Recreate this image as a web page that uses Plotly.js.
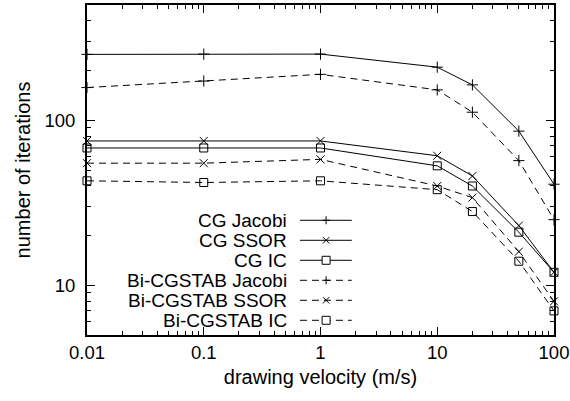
<!DOCTYPE html>
<html>
<head>
<meta charset="utf-8">
<script src="https://cdn.plot.ly/plotly-3.0.1.min.js"></script>
<style>html,body{margin:0;padding:0;background:#fff}#chart{width:570px;height:401px}</style>
</head>
<body>
<div id="chart"></div>
<script>
// drawing velocity (m/s)
const velocity = [0.01, 0.1, 1, 10, 20, 50, 100];

const seriesNames = ["CG Jacobi", "CG SSOR", "CG IC",
  "Bi-CGSTAB Jacobi", "Bi-CGSTAB SSOR", "Bi-CGSTAB IC"];

// number of iterations
const cgJacobi       = [251, 252, 252, 210, 164, 86, 41];
const cgSSOR         = [75, 75, 75, 61, 46, 23, 12];
const cgIC           = [68, 68, 68, 53, 40, 21, 12];
const bicgJacobi     = [158, 173, 190, 153, 112, 57, 25];
const bicgSSOR       = [55, 55, 58, 40, 34, 16, 8];
const bicgIC         = [43, 42, 43, 38, 28, 14, 7];

const xTickVals = [0.01, 0.1, 1, 10, 100];
const xTickText = ["0.01", "0.1", "1", "10", "100"];
const yTickVals = [10, 100];
const yTickText = ["10", "100"];

const allSeries = [cgJacobi, cgSSOR, cgIC, bicgJacobi, bicgSSOR, bicgIC];
const symbols = ["cross-thin-open", "x-thin-open", "square-open",
                 "cross-thin-open", "x-thin-open", "square-open"];
const keyKinds = ["plus", "x", "square", "plus", "x", "square"];
const dashes = ["solid", "solid", "solid", "7px,5px", "7px,5px", "7px,5px"];

const traces = allSeries.map((ys, i) => ({
  x: velocity, y: ys, name: seriesNames[i], type: "scatter", mode: "lines+markers",
  line: {color: "#000", width: 1, dash: dashes[i]},
  marker: {symbol: symbols[i], size: 8, color: "#000", line: {color: "#000", width: 1}},
  showlegend: false, cliponaxis: false
}));

const tickFont = {family: "Liberation Sans, Arial, sans-serif", size: 18.5, color: "#000"};
const titleFont = {family: "Liberation Sans, Arial, sans-serif", size: 20, color: "#000"};
const keyFont = {family: "Liberation Sans, Arial, sans-serif", size: 19, color: "#000"};

// key (legend) drawn as layout shapes + annotations, gnuplot style: text then sample
const plotW = 467, plotH = 330;
const keyTop = 0.3476, keyStep = 20 / plotH;
const keyX0 = 0.456, keyX1 = 0.567, keyXc = 0.512;
const hx = 4 / plotW, hy = 4 / plotH, sx = 3.2 / plotW, sy = 3.2 / plotH;
const shapes = [];
const annotations = [];
seriesNames.forEach((nm, i) => {
  const y = keyTop - keyStep * i;
  shapes.push({type: "line", xref: "paper", yref: "paper",
    x0: keyX0, x1: keyX1, y0: y, y1: y,
    line: {color: "#000", width: 1, dash: dashes[i]}});
  let path;
  if (keyKinds[i] === "plus") {
    path = `M${keyXc - hx},${y} L${keyXc + hx},${y} M${keyXc},${y - hy} L${keyXc},${y + hy}`;
    shapes.push({type: "path", xref: "paper", yref: "paper", path, line: {color: "#000", width: 1}});
  } else if (keyKinds[i] === "x") {
    path = `M${keyXc - sx},${y - sy} L${keyXc + sx},${y + sy} M${keyXc - sx},${y + sy} L${keyXc + sx},${y - sy}`;
    shapes.push({type: "path", xref: "paper", yref: "paper", path, line: {color: "#000", width: 1}});
  } else {
    shapes.push({type: "rect", xref: "paper", yref: "paper",
      x0: keyXc - hx, x1: keyXc + hx, y0: y - hy, y1: y + hy,
      fillcolor: "#fff", line: {color: "#000", width: 1}});
  }
  annotations.push({xref: "paper", yref: "paper", x: 0.43, y: y,
    xanchor: "right", yanchor: "middle", text: nm, showarrow: false,
    borderpad: 0, font: keyFont});
});

const layout = {
  width: 570, height: 401,
  margin: {l: 87, r: 16, t: 5, b: 66},
  paper_bgcolor: "#fff", plot_bgcolor: "#fff",
  font: tickFont,
  showlegend: false,
  xaxis: {
    type: "log", range: [-2, 2],
    tickvals: xTickVals, ticktext: xTickText,
    ticks: "inside", ticklen: 8, tickwidth: 1, tickcolor: "#000",
    minor: {ticks: "inside", ticklen: 4, tickwidth: 1, tickcolor: "#000", dtick: "D1", showgrid: false},
    showline: true, linewidth: 2, linecolor: "#000", mirror: "ticks",
    showgrid: false, zeroline: false,
    tickfont: tickFont,
    title: {text: "drawing velocity (m/s)", font: titleFont, standoff: 8}
  },
  yaxis: {
    type: "log", range: [Math.log10(5), Math.log10(500)],
    tickvals: yTickVals, ticktext: yTickText,
    ticks: "inside", ticklen: 8, tickwidth: 1, tickcolor: "#000",
    ticklabelstandoff: 6,
    minor: {ticks: "inside", ticklen: 4, tickwidth: 1, tickcolor: "#000", dtick: "D1", showgrid: false},
    showline: true, linewidth: 2, linecolor: "#000", mirror: "ticks",
    showgrid: false, zeroline: false,
    tickfont: tickFont,
    title: {text: "number of iterations", font: titleFont, standoff: 8}
  },
  shapes: shapes,
  annotations: annotations
};

Plotly.newPlot("chart", traces, layout, {displayModeBar: false, staticPlot: true});
</script>
</body>
</html>
